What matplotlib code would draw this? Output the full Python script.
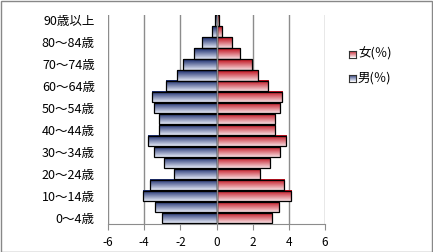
import numpy as np
import matplotlib
matplotlib.use('Agg')
import matplotlib.pyplot as plt
from matplotlib.patches import Rectangle

plt.rcParams['font.family'] = ['Noto Sans CJK JP', 'DejaVu Sans']
plt.rcParams['axes.unicode_minus'] = False

# age groups, bottom to top
ages = ['0～4歳', '5～9歳', '10～14歳', '15～19歳', '20～24歳', '25～29歳',
        '30～34歳', '35～39歳', '40～44歳', '45～49歳', '50～54歳', '55～59歳',
        '60～64歳', '65～69歳', '70～74歳', '75～79歳', '80～84歳', '85～89歳',
        '90歳以上']
male = [3.0, 3.38, 4.05, 3.66, 2.33, 2.89, 3.44, 3.77, 3.16, 3.16, 3.46, 3.55,
        2.78, 2.2, 1.84, 1.23, 0.78, 0.23, 0.08]
female = [3.09, 3.47, 4.14, 3.75, 2.42, 2.98, 3.53, 3.83, 3.25, 3.25, 3.53, 3.64,
          2.87, 2.31, 1.95, 1.32, 0.87, 0.32, 0.15]
xticks = [-6, -4, -2, 0, 2, 4, 6]

def grad(top, bottom, n=32):
    top = np.array(matplotlib.colors.to_rgb(top))
    bottom = np.array(matplotlib.colors.to_rgb(bottom))
    t = np.linspace(0, 1, n)[:, None]
    return (top * (1 - t) + bottom * t)[:, None, :]

blue_g = grad('#16286a', '#e2e7f5')
red_g = grad('#c00a18', '#f6dde0')

W, H = 433, 252
fig = plt.figure(figsize=(W / 100, H / 100), dpi=100)
ax = fig.add_axes([108 / W, 1 - 223.5 / H, 217 / W, 208.5 / H])

bh = 0.94
for i in range(len(ages)):
    for v, g in ((-male[i], blue_g), (female[i], red_g)):
        x0, x1 = min(0, v), max(0, v)
        ax.imshow(g, extent=(x0, x1, i - bh / 2, i + bh / 2), aspect='auto',
                  interpolation='bilinear', origin='upper', zorder=2)
        ax.add_patch(Rectangle((x0, i - bh / 2), x1 - x0, bh, fill=False,
                               edgecolor='black', linewidth=0.9, zorder=3))

ax.set_xlim(-6, 6)
ax.set_ylim(-0.5, len(ages) - 0.5)
for x in xticks:
    if x != 0:
        ax.axvline(x, color='#8c8c8c', linewidth=1, zorder=1)
ax.axvline(0, color='#8c8c8c', linewidth=1, zorder=4)

ax.set_xticks(xticks)
ax.set_xticklabels([str(x) for x in xticks])
ax.set_yticks(range(0, len(ages), 2))
ax.set_yticklabels(ages[::2])
ax.tick_params(axis='y', length=0, pad=9.5, labelsize=9)
ax.tick_params(axis='x', length=4, direction='out', color='#8c8c8c', pad=5, labelsize=8.5)
for s in ('top', 'right', 'left'):
    ax.spines[s].set_visible(False)
ax.spines['bottom'].set_color('#8c8c8c')

# legend
for k, (lab, g) in enumerate((('女(％)', red_g), ('男(％)', blue_g))):
    y = 54 + k * 24
    lax = fig.add_axes([349 / W, 1 - (y + 3.5) / H, 7 / W, 7 / H])
    lax.imshow(g, aspect='auto', interpolation='bilinear')
    lax.set_xticks([])
    lax.set_yticks([])
    for sp in lax.spines.values():
        sp.set_color('#333333')
        sp.set_linewidth(0.8)
    fig.text(358 / W, 1 - y / H, lab, fontsize=9, va='center', ha='left')

fig.patches.append(Rectangle((0.5 / W, 0.5 / H), 1 - 1.5 / W, 1 - 1.5 / H,
                             transform=fig.transFigure, fill=False,
                             edgecolor='#888888', linewidth=1))

fig.savefig('out.png', dpi=100)
